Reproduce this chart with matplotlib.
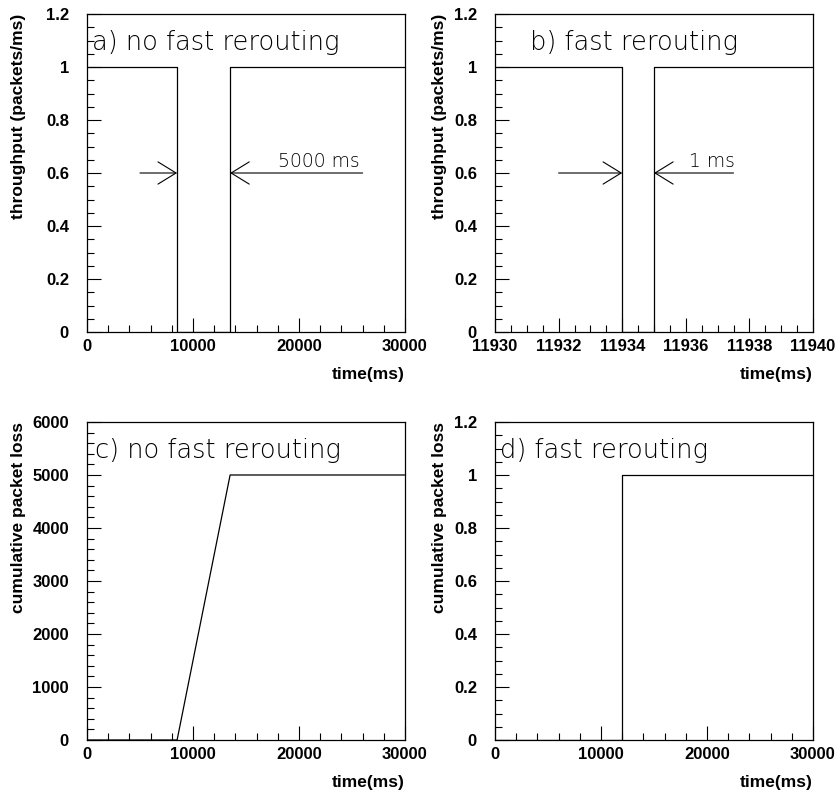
import matplotlib
matplotlib.use('Agg')
import matplotlib.pyplot as plt
from matplotlib.ticker import MultipleLocator

# panel data
a_time = [0, 8500, 8500, 13500, 13500, 30000]
a_thr = [1, 1, 0, 0, 1, 1]
b_time = [11930, 11934, 11934, 11935, 11935, 11940]
b_thr = [1, 1, 0, 0, 1, 1]
c_time = [0, 8500, 13500, 30000]
c_loss = [0, 0, 5000, 5000]
d_time = [0, 11934, 11934, 30000]
d_loss = [0, 0, 1, 1]

thin = dict(family=['DejaVu Sans'], weight=200, color='black')
bold = dict(family=['Liberation Sans', 'DejaVu Sans'], weight='bold')

fig = plt.figure(figsize=(8.37, 7.94), dpi=100)
W, H = 837, 794


def make_ax(left, top):
    return fig.add_axes([left / W, (H - top - 318) / H, 318 / W, 318 / H])


def style(ax, xmaj, xmin, ymaj, ymin):
    ax.xaxis.set_major_locator(MultipleLocator(xmaj))
    ax.xaxis.set_minor_locator(MultipleLocator(xmin))
    ax.yaxis.set_major_locator(MultipleLocator(ymaj))
    ax.yaxis.set_minor_locator(MultipleLocator(ymin))
    ax.tick_params(which='both', direction='in', top=False, right=False)
    ax.tick_params(which='major', length=10, width=0.8)
    ax.tick_params(which='minor', length=5, width=0.8)
    ax.tick_params(axis='x', pad=5)
    ax.tick_params(axis='y', pad=13)
    for s in ax.spines.values():
        s.set_linewidth(0.9)


def labels(ax, ylab, ylx):
    ax.text(ylx, 1.0, ylab, transform=ax.transAxes, rotation=90,
            ha='center', va='top', fontsize=12.5, **bold)
    ax.text(1.0, -0.135, 'time(ms)', transform=ax.transAxes,
            ha='right', va='center', fontsize=12.5, **bold)


def arrow(ax, x0, x1, y):
    ax.annotate('', xy=(x1, y), xytext=(x0, y),
                arrowprops=dict(arrowstyle='->,head_length=0.65,head_width=0.4',
                                mutation_scale=20, lw=0.8, color='black',
                                shrinkA=0, shrinkB=0))


yt = [0, 0.2, 0.4, 0.6, 0.8, 1, 1.2]
ytl = ['0', '0.2', '0.4', '0.6', '0.8', '1', '1.2']

# a)
ax = make_ax(87, 14)
ax.plot(a_time, a_thr, color='black', lw=0.9)
ax.set_xlim(0, 30000)
ax.set_ylim(0, 1.2)
style(ax, 10000, 2000, 0.2, 0.05)
ax.set_yticks(yt, ytl)
labels(ax, 'throughput (packets/ms)', -0.216)
ax.text(500, 1.065, 'a) no fast rerouting', fontsize=18.5, **thin)
arrow(ax, 5000, 8500, 0.6)
arrow(ax, 26000, 13500, 0.6)
ax.text(18000, 0.622, '5000 ms', fontsize=13.5, **thin)

# b)
ax = make_ax(495, 14)
ax.plot(b_time, b_thr, color='black', lw=0.9)
ax.set_xlim(11930, 11940)
ax.set_ylim(0, 1.2)
style(ax, 2, 0.5, 0.2, 0.05)
ax.set_yticks(yt, ytl)
ax.xaxis.get_major_formatter().set_useOffset(False)
labels(ax, 'throughput (packets/ms)', -0.173)
ax.text(11931.1, 1.065, 'b) fast rerouting', fontsize=18.5, **thin)
arrow(ax, 11932, 11934, 0.6)
arrow(ax, 11937.5, 11935, 0.6)
ax.text(11936.1, 0.622, '1 ms', fontsize=13.5, **thin)

# c)
ax = make_ax(87, 422)
ax.plot(c_time, c_loss, color='black', lw=0.9)
ax.set_xlim(0, 30000)
ax.set_ylim(0, 6000)
style(ax, 10000, 2000, 1000, 200)
labels(ax, 'cumulative packet loss', -0.216)
ax.text(800, 5330, 'c) no fast rerouting', fontsize=18.5, **thin)

# d)
ax = make_ax(495, 422)
ax.plot(d_time, d_loss, color='black', lw=0.9)
ax.set_xlim(0, 30000)
ax.set_ylim(0, 1.2)
style(ax, 10000, 2000, 0.2, 0.05)
ax.set_yticks(yt, ytl)
labels(ax, 'cumulative packet loss', -0.173)
ax.text(500, 1.065, 'd) fast rerouting', fontsize=18.5, **thin)

for a in fig.axes:
    for lab in a.get_xticklabels() + a.get_yticklabels():
        lab.set_fontfamily(bold['family'])
        lab.set_fontweight('bold')
        lab.set_fontsize(12)

fig.savefig('out.png', dpi=100)
